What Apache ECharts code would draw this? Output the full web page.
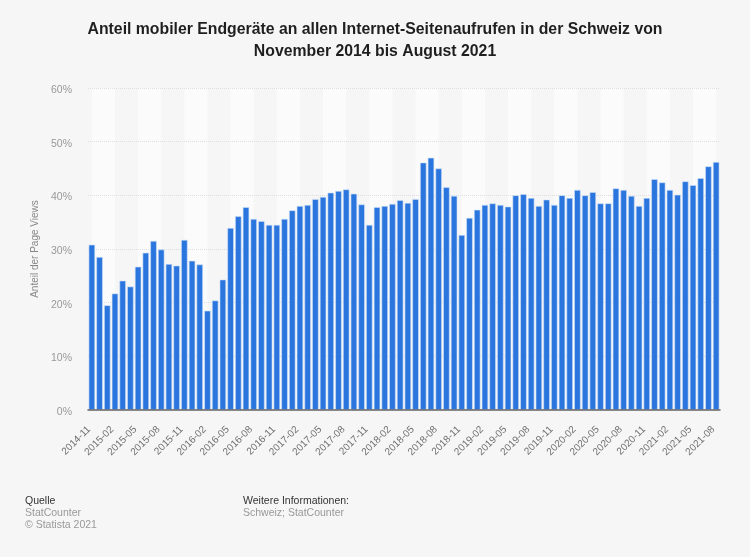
<!DOCTYPE html>
<html><head><meta charset="utf-8">
<style>html,body{margin:0;padding:0;background:#f6f6f6}#c{width:750px;height:557px}</style>
<script src="https://cdn.jsdelivr.net/npm/echarts@6/dist/echarts.min.js"></script>
</head><body><div id="c"></div>
<script>
const categories = ["2014-11","2014-12","2015-01","2015-02","2015-03","2015-04","2015-05","2015-06","2015-07","2015-08","2015-09","2015-10","2015-11","2015-12","2016-01","2016-02","2016-03","2016-04","2016-05","2016-06","2016-07","2016-08","2016-09","2016-10","2016-11","2016-12","2017-01","2017-02","2017-03","2017-04","2017-05","2017-06","2017-07","2017-08","2017-09","2017-10","2017-11","2017-12","2018-01","2018-02","2018-03","2018-04","2018-05","2018-06","2018-07","2018-08","2018-09","2018-10","2018-11","2018-12","2019-01","2019-02","2019-03","2019-04","2019-05","2019-06","2019-07","2019-08","2019-09","2019-10","2019-11","2019-12","2020-01","2020-02","2020-03","2020-04","2020-05","2020-06","2020-07","2020-08","2020-09","2020-10","2020-11","2020-12","2021-01","2021-02","2021-03","2021-04","2021-05","2021-06","2021-07","2021-08"];
const shares = [30.8,28.5,19.5,21.7,24.1,23,26.7,29.3,31.5,29.9,27.2,26.9,31.7,27.8,27.1,18.5,20.4,24.3,33.9,36.1,37.8,35.6,35.2,34.5,34.5,35.6,37.2,38,38.2,39.3,39.7,40.5,40.8,41.1,40.3,38.3,34.5,37.8,38,38.4,39.1,38.6,39.3,46.1,47,45,41.5,39.9,32.6,35.8,37.3,38.2,38.5,38.2,37.9,40,40.2,39.5,38,39.2,38.2,40,39.5,41,40,40.6,38.5,38.5,41.3,41,39.9,38,39.5,43,42.4,41,40.1,42.6,41.9,43.2,45.4,46.2];
const yTicks = [0,10,20,30,40,50,60];
const titleText = "Anteil mobiler Endgeräte an allen Internet-Seitenaufrufen in der Schweiz von\nNovember 2014 bis August 2021";
const yAxisTitle = "Anteil der Page Views";
const bandStep = 3;

const bands = [];
for (let i = 0; i + bandStep < categories.length; i += bandStep * 2) {
  bands.push([{xAxis: i}, {xAxis: i + bandStep}]);
}
const font = '"Liberation Sans", Arial, sans-serif';
const chart = echarts.init(document.getElementById('c'), null, {renderer: 'canvas'});
chart.setOption({
  backgroundColor: '#f6f6f6',
  animation: false,
  title: [
    {text: titleText, left: 375, top: 19, padding: 0, textAlign: 'center',
     textStyle: {fontFamily: font, fontSize: 15.8, fontWeight: 'bold', color: '#1f1f1f', lineHeight: 22}},
    {text: 'Quelle', left: 25, top: 496, padding: 0, textStyle: {fontFamily: font, fontSize: 10.5, fontWeight: 'normal', color: '#333'}},
    {text: 'StatCounter\n© Statista 2021', left: 25, top: 507, padding: 0, textStyle: {fontFamily: font, fontSize: 10.5, fontWeight: 'normal', color: '#999', lineHeight: 12}},
    {text: 'Weitere Informationen:', left: 243, top: 496, padding: 0, textStyle: {fontFamily: font, fontSize: 10.5, fontWeight: 'normal', color: '#333'}},
    {text: 'Schweiz; StatCounter', left: 243, top: 507, padding: 0, textStyle: {fontFamily: font, fontSize: 10.5, fontWeight: 'normal', color: '#999', lineHeight: 12}}
  ],
  grid: {left: 88, right: 30, top: 88, height: 322},
  xAxis: [{
    type: 'category', data: categories, z: 4,
    axisLine: {lineStyle: {color: '#666', width: 1.5}},
    axisTick: {show: false},
    splitLine: {show: false},
    axisLabel: {interval: bandStep - 1, rotate: 45, color: '#6f6f6f', fontFamily: font, fontSize: 10, margin: 15, padding: [0,4,0,0]}
  }, {
    type: 'value', min: -0.5, max: categories.length - 0.5, show: false
  }],
  yAxis: {
    type: 'value', min: yTicks[0], max: yTicks[yTicks.length - 1], interval: 10, z: 2,
    name: yAxisTitle, nameLocation: 'middle', nameRotate: 90, nameGap: 38,
    nameTextStyle: {color: '#888', fontFamily: font, fontSize: 10},
    axisLine: {show: false}, axisTick: {show: false},
    axisLabel: {margin: 16, formatter: v => '{t|' + v + '%}',
      rich: {t: {color: '#999', fontFamily: font, fontSize: 10.5, padding: [4,0,0,0]}}},
    splitLine: {lineStyle: {color: '#dedede', type: 'dotted', width: 1}}
  },
  series: [{
    type: 'line', xAxisIndex: 1, data: [], silent: true, z: 0,
    markArea: {silent: true, z: 0, itemStyle: {color: '#fbfbfb'}, label: {show: false}, data: bands}
  }, {
    type: 'bar', data: shares, barWidth: 6.4, z: 3,
    itemStyle: {color: '#2a75de', borderColor: '#cfe0f7', borderWidth: 0.6}
  }]
});
</script></body></html>
